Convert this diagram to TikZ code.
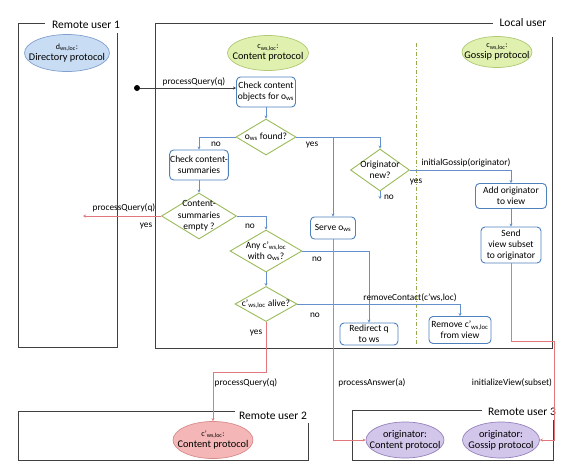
\documentclass[tikz,border=0pt]{standalone}
\usepackage{fontspec}
\setmainfont{Carlito}
\usetikzlibrary{shapes.geometric,arrows.meta}
\definecolor{framec}{RGB}{64,64,64}
\definecolor{connc}{RGB}{100,145,205}
\definecolor{boxc}{RGB}{79,129,189}
\definecolor{diac}{RGB}{155,187,89}
\definecolor{redc}{RGB}{225,120,125}
\definecolor{dashc}{RGB}{150,170,80}
\definecolor{blueF}{RGB}{200,220,244}
\definecolor{blueD}{RGB}{130,160,205}
\definecolor{greenF}{RGB}{224,240,175}
\definecolor{greenD}{RGB}{175,200,115}
\definecolor{redF}{RGB}{244,182,182}
\definecolor{redD}{RGB}{215,140,140}
\definecolor{purF}{RGB}{210,198,234}
\definecolor{purD}{RGB}{150,130,190}
\newcommand{\sbs}[1]{\textsubscript{#1}}
\begin{document}
\begin{tikzpicture}[x=1pt,y=-1pt,
  frame/.style={draw=framec,line width=1pt},
  framelbl/.style={font=\fontsize{11.5}{13}\selectfont,inner sep=0pt},
  boxn/.style={draw=boxc,line width=0.9pt,rounded corners=4pt,fill=white,align=center,
    font=\fontsize{9.5}{11}\selectfont,inner xsep=0.5pt,inner ysep=1pt},
  dia/.style={diamond,draw=diac,line width=0.9pt,fill=white,inner sep=0pt},
  diatext/.style={align=center,font=\fontsize{9.5}{11.5}\selectfont,inner sep=0pt},
  ell/.style={ellipse,inner sep=0pt,line width=0.7pt},
  elltext/.style={align=center,font=\fontsize{10.3}{11}\selectfont,inner sep=0pt},
  conn/.style={draw=connc,line width=0.8pt,-{Stealth[length=3pt,width=3pt]}},
  rconn/.style={draw=redc,line width=0.8pt,-{Stealth[length=3pt,width=3pt]}},
  lbl/.style={font=\fontsize{9.3}{10}\selectfont,inner sep=0pt}]
\useasboundingbox (0,0) rectangle (574,475);

% frames
\draw[frame] (45,23) -- (18,23) -- (18,347) -- (117,347) -- (117,33);
\node[framelbl] (fr1) at (86,25) {Remote user 1};
\draw[frame] (493,23) -- (155,23) -- (155,348) -- (552,348) -- (552,37);
\node[framelbl] (frl) at (523,23) {Local user};
\draw[frame] (235,411) -- (18,411) -- (18,460) -- (308,460) -- (308,423);
\node[framelbl] (fr2) at (273,416) {Remote user 2};
\draw[frame] (482,410) -- (352,410) -- (352,460) -- (553,460) -- (553,420);
\node[framelbl] (fr3) at (522,412) {Remote user 3};

% dash-dot separator
\draw[dashc,line width=1pt,dash pattern=on 4pt off 2pt on 1pt off 2pt] (416,43) -- (416,345);

% ellipses
\node[ell,draw=blueD,fill=blueF,minimum width=85,minimum height=37,
  label={[elltext]center:{{\fontsize{8}{8}\selectfont d\sbs{ws,loc}:}\\Directory protocol}}] (edir) at (67,53) {};
\node[ell,draw=greenD,fill=greenF,minimum width=81,minimum height=35,
  label={[elltext]center:{{\fontsize{8}{8}\selectfont c\sbs{ws,loc}:}\\Content protocol}}] (econ) at (268,53) {};
\node[ell,draw=greenD,fill=greenF,minimum width=70,minimum height=31,
  label={[elltext]center:{{\fontsize{8}{8}\selectfont c\sbs{ws,loc}:}\\Gossip protocol}}] (egos) at (497,52) {};
\node[ell,draw=redD,fill=redF,minimum width=80,minimum height=37,
  label={[elltext]center:{{\fontsize{8}{8}\selectfont c'\sbs{ws,loc}:}\\Content protocol}}] (cr) at (213,440) {};
\node[ell,draw=purD,fill=purF,minimum width=78,minimum height=36,
  label={[elltext]center:{originator:\\Content protocol}}] (oc) at (405,440) {};
\node[ell,draw=purD,fill=purF,minimum width=77,minimum height=36,
  label={[elltext]center:{originator:\\Gossip protocol}}] (og) at (501,440) {};

% flow nodes
\node[circle,fill=black,inner sep=0pt,minimum size=6pt] (dot) at (137,88) {};
\node[boxn,minimum width=59,minimum height=30] (chk) at (266,92) {Check content\\objects for o\sbs{ws}};
\node[dia,minimum width=60,minimum height=36,label={[diatext]center:{o\sbs{ws} found?}}] (d1) at (266,137) {};
\node[boxn,minimum width=58,minimum height=30] (cs) at (199,165) {Check content-\\summaries};
\node[dia,minimum width=75,minimum height=46,label={[diatext]center:{Content-\\summaries\\empty ?}}] (ce) at (199,216) {};
\node[dia,minimum width=72,minimum height=42,label={[diatext]center:{Any c'\sbs{ws,loc}\\with o\sbs{ws}?}}] (any) at (266,251) {};
\node[dia,minimum width=62,minimum height=35,label={[diatext]center:{c'\sbs{ws,loc} alive?}}] (alive) at (266,304) {};
\node[boxn,minimum width=45,minimum height=22] (serve) at (333,228) {Serve o\sbs{ws}};
\node[boxn,minimum width=58,minimum height=22] (redir) at (369,334) {Redirect q\\to ws};
\node[boxn,minimum width=62,minimum height=27] (remove) at (460,330) {Remove c'\sbs{ws,loc}\\from view};
\node[dia,minimum width=59,minimum height=42,label={[diatext]center:{Originator\\new?}}] (orig) at (380,170) {};
\node[boxn,minimum width=71,minimum height=25] (add) at (511,196) {Add originator\\to view};
\node[boxn,minimum width=60,minimum height=36] (send) at (511,245) {Send\\view subset\\to originator};

% helper coordinates
\coordinate (q1) at (83,216);
\coordinate (k1) at (266,372);
\coordinate (k2) at (554,341);
\coordinate (k3) at (380,199);

% connectors
\draw[draw=framec,line width=0.8pt,-{Stealth[length=3pt,width=3pt]}] (dot) -- (chk.west |- dot);
\draw[conn] (chk) -- (d1);
\draw[conn] (d1.west) -| (cs.north);
\draw[conn] (d1.east) -| (orig.north);
\draw[conn] (d1.east) -| (serve.north);
\draw[conn] (cs) -- (ce);
\draw[rconn] (ce.west) -- (q1);
\draw[conn] (ce.east) -| (any.north);
\draw[conn] (any.east) -| (redir.north);
\draw[conn] (any) -- (alive);
\draw[conn] (alive.east) -| (remove.north);
\draw[rconn] (alive.south) -- (k1) -| (cr.north);
\draw[rconn] (serve.south) |- (oc.west);
\draw[rconn] (send.south) |- (k2) |- (og.east);
\draw[conn] (orig.east) -| (add.north);
\draw[conn] (orig.south) -- (k3);
\draw[conn] (add) -- (send);

% labels
\node[lbl] (l1) at (194,82) {processQuery(q)};
\node[lbl] (l2) at (216,144) {no};
\node[lbl] (l3) at (312,145) {yes};
\node[lbl] (l4) at (124,208) {processQuery(q)};
\node[lbl] (l5) at (146,226) {yes};
\node[lbl] (l6) at (250,226) {no};
\node[lbl] (l7) at (317,259) {no};
\node[lbl] (l8) at (410,298) {removeContact(c'ws,loc)};
\node[lbl] (l9) at (315,315) {no};
\node[lbl] (l10) at (256,333) {yes};
\node[lbl] (l11) at (246,383) {processQuery(q)};
\node[lbl] (l12) at (372,383) {processAnswer(a)};
\node[lbl] (l13) at (512,383) {initializeView(subset)};
\node[lbl] (l14) at (466,163) {initialGossip(originator)};
\node[lbl] (l15) at (416,182) {yes};
\node[lbl] (l16) at (389,197) {no};
\end{tikzpicture}
\end{document}
